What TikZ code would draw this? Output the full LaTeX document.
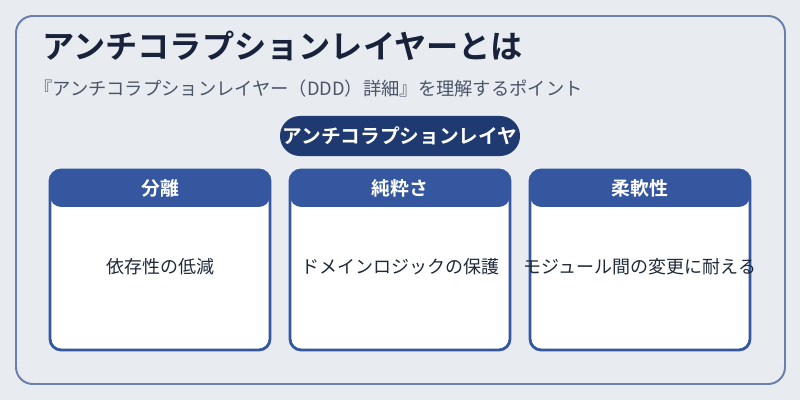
\documentclass[tikz,border=0pt]{standalone}
\usepackage{fontspec}
\setmainfont{Noto Sans CJK JP}[BoldFont={Noto Sans CJK JP Bold}]
\usetikzlibrary{positioning}

\definecolor{pagebg}{HTML}{E8ECF1}
\definecolor{framecol}{HTML}{6A80AA}
\definecolor{titlecol}{HTML}{18223A}
\definecolor{subcol}{HTML}{4A5568}
\definecolor{pillcol}{HTML}{1F3A70}
\definecolor{cardcol}{HTML}{3557A0}
\definecolor{bodycol}{HTML}{1E2A3A}

\begin{document}
\begin{tikzpicture}[x=0.025cm,y=-0.025cm]
	\tikzstyle{frame}=[draw=framecol,line width=1.4pt,rounded corners=12]
	\tikzstyle{maintitle}=[anchor=west,inner sep=0pt,text=titlecol,font=\fontsize{22.9pt}{26pt}\selectfont\bfseries]
	\tikzstyle{subtitle}=[anchor=west,inner sep=0pt,text=subcol,font=\fontsize{13pt}{15pt}\selectfont]
	\tikzstyle{pill}=[fill=pillcol,rounded corners=0.5cm,minimum width=6cm,minimum height=1cm,inner sep=0pt,text=white,font=\fontsize{14pt}{16pt}\selectfont\bfseries]
	\tikzstyle{card}=[draw=cardcol,line width=2pt,fill=white,rounded corners=8,minimum width=5.5cm,minimum height=4.5cm,
		path picture={\fill[cardcol] (path picture bounding box.north west) rectangle ([yshift=-0.925cm]path picture bounding box.north east);}]
	\tikzstyle{cardhead}=[inner sep=0pt,text=white,font=\fontsize{13.4pt}{15pt}\selectfont\bfseries]
	\tikzstyle{cardbody}=[inner sep=0pt,text=bodycol,font=\fontsize{12.8pt}{15pt}\selectfont]

	% background and outer frame
	\fill[pagebg] (0,0) rectangle (800,400);
	\useasboundingbox (0,0) rectangle (800,400);
	\draw[frame] (16,16) rectangle (785,384);

	% titles
	\node[maintitle] (title) at (42,46) {アンチコラプションレイヤーとは};
	\node[subtitle] (sub) at (34,89) {『アンチコラプションレイヤー（DDD）詳細』を理解するポイント};

	\node[pill] (acl) at (400,136) {アンチコラプションレイヤ};

	% cards
	\node[card] (sep) at (160,260) {};
	\node[card] (pure) at (400,260) {};
	\node[card] (flex) at (640,260) {};

	\node[cardhead] (seph) at (160,188) {分離};
	\node[cardhead] (pureh) at (400,188) {純粋さ};
	\node[cardhead] (flexh) at (640,188) {柔軟性};

	\node[cardbody] (sepb) at (160,267) {依存性の低減};
	\node[cardbody] (pureb) at (400,267) {ドメインロジックの保護};
	\node[cardbody] (flexb) at (640,267) {モジュール間の変更に耐える};
\end{tikzpicture}
\end{document}
